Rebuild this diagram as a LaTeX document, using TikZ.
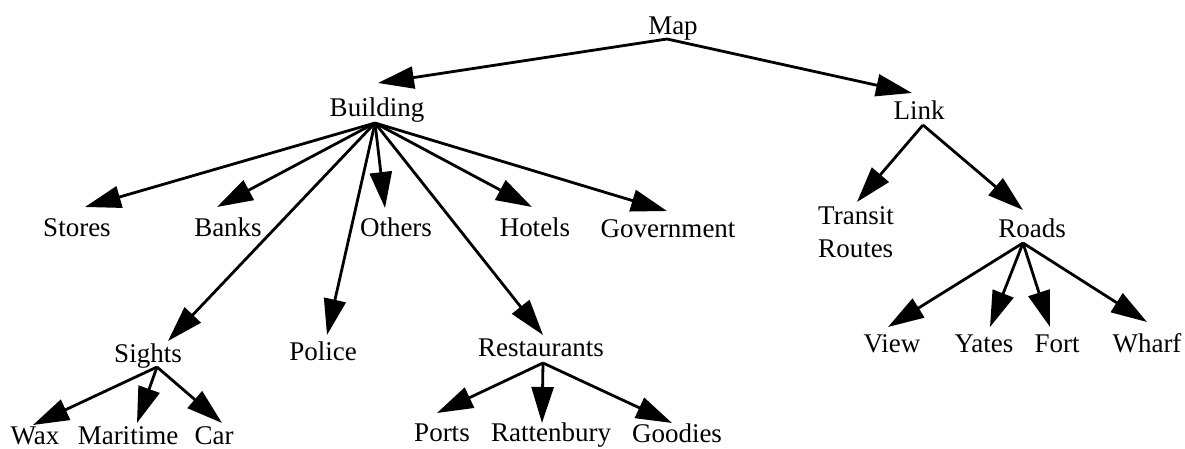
\documentclass[tikz,border=0pt]{standalone}
\usepackage{fontspec}
\setmainfont{Liberation Serif}
\usetikzlibrary{arrows.meta}
\begin{document}
\begin{tikzpicture}[x=0.5pt,y=-0.5pt,
  lbl/.style={font=\fontsize{13.5}{16.5}\selectfont, inner sep=0pt, outer sep=0pt, anchor=base},
  arr/.style={line width=1.4pt, -{Triangle[length=18pt,width=11pt]}, line join=miter}]
\useasboundingbox (0,0) rectangle (1185,449);

% labels
\node[lbl] (map) at (673,35) {Map};
\node[lbl] (building) at (377,117) {Building};
\node[lbl] (link) at (919,120) {Link};
\node[lbl] (stores) at (77,236) {Stores};
\node[lbl] (banks) at (228,236) {Banks};
\node[lbl] (others) at (396,236) {Others};
\node[lbl] (hotels) at (535,237) {Hotels};
\node[lbl] (government) at (668,238) {Government};
\node[lbl] (sights) at (148,363) {Sights};
\node[lbl] (police) at (323,360) {Police};
\node[lbl] (restaurants) at (541,357) {Restaurants};
\node[lbl] (wax) at (35,444) {Wax};
\node[lbl] (maritime) at (128,444) {Maritime};
\node[lbl] (car) at (214,444) {Car};
\node[lbl] (ports) at (442,441) {Ports};
\node[lbl] (rattenbury) at (551,441) {Rattenbury};
\node[lbl] (goodies) at (677,442) {Goodies};
\node[lbl, anchor=north, align=left] (transit) at (856,207) {Transit\\Routes};
\node[lbl] (roads) at (1032,238) {Roads};
\node[lbl] (view) at (892,352) {View};
\node[lbl] (yates) at (984,352) {Yates};
\node[lbl] (fort) at (1057,352) {Fort};
\node[lbl] (wharf) at (1147,352) {Wharf};

% Map
\draw[arr] ([shift={(-6,4)}]map.base) -- ([shift={(1,-34)}]building.base);
\draw[arr] ([shift={(-6,4)}]map.base) -- ([shift={(-7,-27)}]link.base);

% Building
\draw[arr] ([shift={(-2,6)}]building.base) -- ([shift={(8,-29)}]stores.base);
\draw[arr] ([shift={(-2,6)}]building.base) -- ([shift={(-11,-29)}]banks.base);
\draw[arr] ([shift={(-2,6)}]building.base) -- ([shift={(-11,-28)}]others.base);
\draw[arr] ([shift={(-2,6)}]building.base) -- ([shift={(-3,-30)}]hotels.base);
\draw[arr] ([shift={(-2,6)}]building.base) -- ([shift={(-1,-27)}]government.base);
\draw[arr] ([shift={(-2,6)}]building.base) -- ([shift={(20,-22)}]sights.base);
\draw[arr] ([shift={(-2,6)}]building.base) -- ([shift={(4,-25)}]police.base);
\draw[arr] ([shift={(-2,6)}]building.base) -- ([shift={(2,-22)}]restaurants.base);

% Sights
\draw[arr] ([shift={(9,4)}]sights.base) -- ([shift={(-2,-19)}]wax.base);
\draw[arr] ([shift={(9,4)}]sights.base) -- ([shift={(9,-21)}]maritime.base);
\draw[arr] ([shift={(9,4)}]sights.base) -- ([shift={(8,-21)}]car.base);

% Restaurants
\draw[arr] ([shift={(2,6)}]restaurants.base) -- ([shift={(-5,-28)}]ports.base);
\draw[arr] ([shift={(2,6)}]restaurants.base) -- ([shift={(-9,-18)}]rattenbury.base);
\draw[arr] ([shift={(2,6)}]restaurants.base) -- ([shift={(-5,-19)}]goodies.base);

% Link
\draw[arr] ([shift={(4,5)}]link.base) -- ([shift={(1,-5)}]transit.north);
\draw[arr] ([shift={(4,5)}]link.base) -- ([shift={(-9,-28)}]roads.base);

% Roads
\draw[arr] ([shift={(-9,5)}]roads.base) -- ([shift={(-4,-25)}]view.base);
\draw[arr] ([shift={(-9,5)}]roads.base) -- ([shift={(6,-25)}]yates.base);
\draw[arr] ([shift={(-9,5)}]roads.base) -- ([shift={(-7,-25)}]fort.base);
\draw[arr] ([shift={(-9,5)}]roads.base) -- ([shift={(0,-30)}]wharf.base);
\end{tikzpicture}
\end{document}
